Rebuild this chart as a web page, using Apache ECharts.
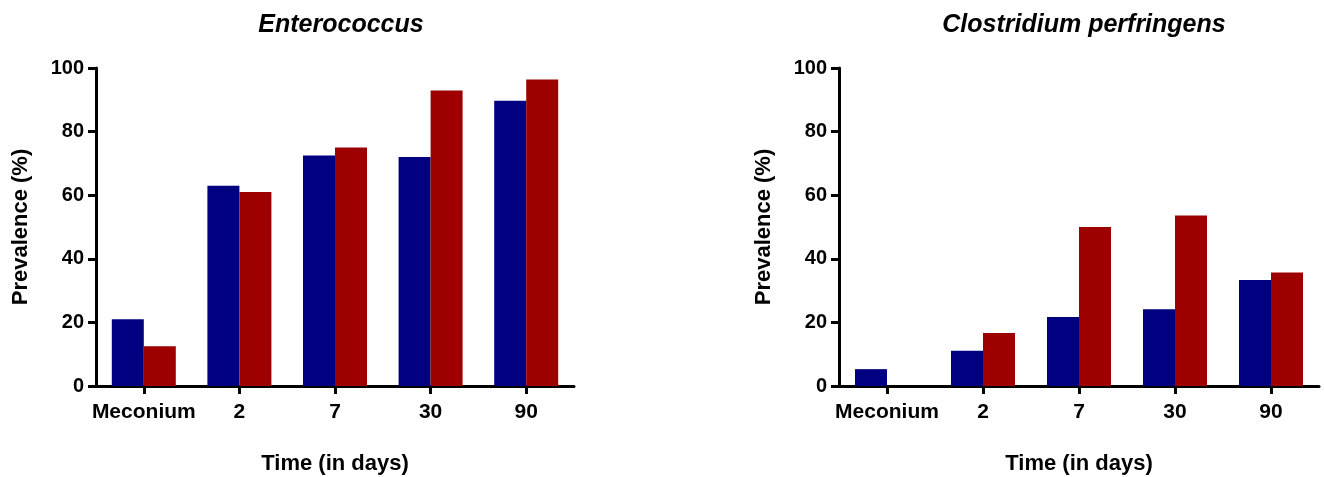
<!DOCTYPE html>
<html>
<head>
<meta charset="utf-8">
<script src="https://cdn.jsdelivr.net/npm/echarts@6/dist/echarts.min.js"></script>
<style>
  html, body { margin: 0; padding: 0; background: #fff; }
  #chart { width: 1324px; height: 477px; }
</style>
</head>
<body>
<div id="chart"></div>
<script>
// categories shared by both panels
const timepoints = ['Meconium', '2', '7', '30', '90']
const yTicks = [0, 20, 40, 60, 80, 100]

// Enterococcus prevalence (%)
const enteroBlue = [21, 63, 72.5, 72, 89.7]
const enteroRed = [12.5, 61, 75, 92.9, 96.4]

// Clostridium perfringens prevalence (%)
const clostBlue = [5.3, 11.1, 21.7, 24.1, 33.3]
const clostRed = [0, 16.7, 50, 53.6, 35.7]

const titles = ['Enterococcus', 'Clostridium perfringens']

const FONT = '"Liberation Sans", Arial, sans-serif'
const BLUE = '#000080'
const RED = '#9e0000'

const chart = echarts.init(document.getElementById('chart'))

function xAxisFor(idx) {
  return {
    type: 'category', gridIndex: idx, data: timepoints,
    name: 'Time (in days)', nameLocation: 'middle', nameGap: 67,
    nameTextStyle: { fontFamily: FONT, fontWeight: 'bold', fontSize: 22, color: '#000' },
    axisLine: { lineStyle: { color: '#000', width: 3 } },
    axisTick: { show: true, interval: 0, alignWithLabel: true, length: 8, lineStyle: { color: '#000', width: 3 } },
    axisLabel: { interval: 0, fontFamily: FONT, fontWeight: 'bold', fontSize: 21, color: '#000', margin: 16 }
  }
}

function yAxisFor(idx) {
  return {
    type: 'value', gridIndex: idx, min: 0, max: yTicks[yTicks.length - 1], interval: 20,
    name: 'Prevalence (%)', nameLocation: 'middle', nameGap: 64,
    nameTextStyle: { fontFamily: FONT, fontWeight: 'bold', fontSize: 22, color: '#000' },
    axisLine: { show: true, lineStyle: { color: '#000', width: 3 } },
    axisTick: { show: true, length: 8, lineStyle: { color: '#000', width: 3 } },
    axisLabel: { fontFamily: FONT, fontWeight: 'bold', fontSize: 20, color: '#000', margin: 12 },
    splitLine: { show: false }
  }
}

function barSeries(idx, data, color) {
  return {
    type: 'bar', xAxisIndex: idx, yAxisIndex: idx, data: data,
    barWidth: 32, barGap: '0%',
    itemStyle: { color: color }
  }
}

chart.setOption({
  backgroundColor: '#fff',
  animation: false,
  title: [
    { text: titles[0], left: 336, top: 8, textAlign: 'center',
      textStyle: { fontFamily: FONT, fontStyle: 'italic', fontWeight: 'bold', fontSize: 25, color: '#000' } },
    { text: titles[1], left: 1079, top: 8, textAlign: 'center',
      textStyle: { fontFamily: FONT, fontStyle: 'italic', fontWeight: 'bold', fontSize: 25, color: '#000' } }
  ],
  grid: [
    { left: 96, right: 750, top: 68, bottom: 91, outerBoundsMode: 'none' },
    { left: 839, right: 5, top: 68, bottom: 91, outerBoundsMode: 'none' }
  ],
  xAxis: [xAxisFor(0), xAxisFor(1)],
  yAxis: [yAxisFor(0), yAxisFor(1)],
  series: [
    barSeries(0, enteroBlue, BLUE),
    barSeries(0, enteroRed, RED),
    barSeries(1, clostBlue, BLUE),
    barSeries(1, clostRed, RED)
  ]
})
</script>
</body>
</html>
